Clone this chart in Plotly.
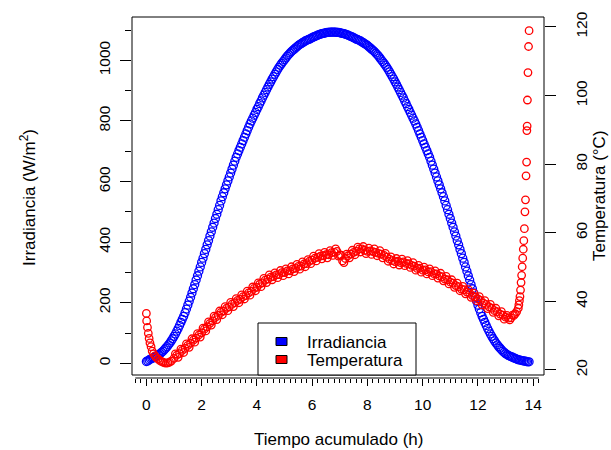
import plotly.graph_objects as go

# ---------------- data ----------------
# Irradiance (W/m2), sampled every 0.05 h from 0 h to 13.85 h
irradiancia = [
    6, 8, 11, 14, 16, 18, 21, 24, 26, 29, 32, 36, 40, 45, 50, 55, 61, 67, 74, 81,
    89, 97, 106, 115, 125, 135, 145, 155, 167, 179, 192, 205, 218, 232, 246, 260,
    275, 289, 304, 318, 333, 347, 362, 376, 391, 405, 420, 434, 449, 463, 478, 492,
    507, 521, 536, 550, 563, 576, 589, 602, 615, 628, 641, 654, 667, 680, 691, 702,
    713, 724, 735, 746, 757, 768, 779, 790, 800, 809, 819, 828, 838, 847, 857, 866,
    876, 885, 894, 903, 912, 921, 929, 938, 946, 954, 962, 970, 977, 984, 990, 996,
    1002, 1008, 1014, 1019, 1024, 1029, 1033, 1037, 1041, 1045, 1049, 1052, 1055,
    1058, 1061, 1064, 1066, 1068, 1070, 1072, 1075, 1077, 1079, 1081, 1083, 1085,
    1086, 1088, 1089, 1090, 1091, 1092, 1092, 1093, 1093, 1093,
    1093, 1093, 1092, 1092, 1091, 1090, 1089, 1088, 1086, 1085,
    1083, 1081, 1079, 1077, 1075, 1072, 1070, 1068, 1066, 1064,
    1061, 1058, 1055, 1052, 1049, 1045, 1041, 1037, 1033, 1029,
    1024, 1019, 1014, 1008, 1002, 996, 990, 984, 977, 970,
    962, 954, 946, 938, 929, 921, 912, 903, 894, 885,
    876, 866, 857, 847, 838, 828, 819, 809, 800, 790,
    779, 768, 757, 746, 735, 724, 713, 702, 691, 680,
    667, 654, 641, 628, 615, 602, 589, 576, 563, 550,
    536, 521, 507, 492, 478, 463, 449, 434, 420, 405,
    391, 376, 362, 347, 333, 318, 304, 289, 275, 260,
    246, 232, 218, 205, 192, 179, 167, 155, 145, 135,
    125, 115, 106, 97, 89, 81, 74, 67, 61, 55,
    50, 45, 40, 36, 32, 29, 26, 24, 22, 20,
    18, 16, 14, 12, 11, 10, 9, 8, 7, 6, 5, 5,
]
tiempo_irr = [round(0.05 * i, 2) for i in range(len(irradiancia))]

# Temperature (deg C) with its own time stamps (h)
tiempo_temp = [
    0.00, 0.01, 0.04, 0.07, 0.10, 0.13, 0.17, 0.21, 0.26, 0.31, 0.36, 0.42, 0.48,
    0.54, 0.60, 0.66, 0.72, 0.78, 0.84, 0.90,
    1.0, 1.1, 1.2, 1.3, 1.4, 1.5, 1.6, 1.7, 1.8, 1.9, 2.0, 2.1, 2.2, 2.3, 2.4, 2.5,
    2.6, 2.7, 2.8, 2.9, 3.0, 3.1, 3.2, 3.3, 3.4, 3.5, 3.6, 3.7, 3.8, 3.9, 4.0, 4.1,
    4.2, 4.3, 4.4, 4.5, 4.6, 4.7, 4.8, 4.9, 5.0, 5.1, 5.2, 5.3, 5.4, 5.5, 5.6, 5.7,
    5.8, 5.9, 6.0, 6.1, 6.2, 6.3, 6.4, 6.5, 6.6, 6.7, 6.8, 6.9, 7.0, 7.1, 7.2, 7.3,
    7.4, 7.5, 7.6, 7.7, 7.8, 7.9, 8.0, 8.1, 8.2, 8.3, 8.4, 8.5, 8.6, 8.7, 8.8, 8.9,
    9.0, 9.1, 9.2, 9.3, 9.4, 9.5, 9.6, 9.7, 9.8, 9.9, 10.0, 10.1, 10.2, 10.3, 10.4,
    10.5, 10.6, 10.7, 10.8, 10.9, 11.0, 11.1, 11.2, 11.3, 11.4, 11.5, 11.6, 11.7,
    11.8, 11.9, 12.0, 12.1, 12.2, 12.3, 12.4, 12.5, 12.6, 12.7, 12.8, 12.9, 13.0,
    13.1, 13.2, 13.3, 13.35, 13.40,
    13.46, 13.48, 13.50, 13.52, 13.54, 13.56, 13.58, 13.60, 13.62, 13.64, 13.66,
    13.68, 13.70, 13.72, 13.74, 13.76, 13.77, 13.78, 13.79, 13.81, 13.83, 13.85,
]
temperatura = [
    36.5, 34.3, 32.4, 30.7, 29.2, 27.9, 26.8, 25.5, 24.7, 24.1, 23.6, 23.2, 22.8,
    22.5, 22.3, 22.1, 22.0, 22.1, 22.3, 22.6,
    23.4, 24.3, 24.8, 25.7, 26.3, 27.2, 27.8, 28.7, 29.3, 30.2, 30.8, 31.9, 32.6,
    33.6, 34.3, 35.3, 35.9, 36.8, 37.2, 38.0, 38.4, 39.2, 39.6, 40.3, 40.6, 41.4,
    41.7, 42.5, 42.9, 43.8, 44.1, 45.0, 45.4, 46.2, 46.5, 47.1, 47.2, 47.7, 47.8,
    48.4, 48.4, 48.9, 48.9, 49.5, 49.6, 50.2, 50.3, 50.9, 51.0, 51.7, 52.0, 52.6,
    52.8, 53.2, 53.3, 53.6, 53.6, 54.2, 54.3, 54.6, 53.5, 51.8, 52.5, 53.3, 53.8,
    54.3, 54.6, 55.3, 55.3, 54.9, 54.6, 54.7, 54.5, 54.3, 54.0, 53.8, 53.4, 52.9,
    52.3, 51.9, 51.6, 51.7, 51.3, 51.5, 51.1, 51.0, 50.5, 50.3, 49.6, 49.7, 49.1,
    49.2, 48.6, 48.7, 48.1, 48.0, 47.4, 47.2, 46.5, 46.3, 45.6, 45.3, 44.6, 44.3,
    43.6, 43.4, 42.7, 42.4, 41.7, 41.4, 40.7, 40.3, 39.5, 39.1, 38.4, 38.0, 37.3,
    37.0, 36.3, 36.0, 35.4, 35.1, 35.2, 35.9, 36.4, 37.0,
    38.0, 39.0, 40.2, 41.4, 43.3, 45.5, 47.6, 50.1, 52.6, 55.2, 57.7, 61.2, 66.1,
    69.6, 76.6, 80.6, 89.8, 91.1, 98.7, 106.7, 114.3, 118.9,
]
# extra (noisy) readings between the ones above, 1.05 h .. 13.25 h every 0.1 h
tiempo_temp_b = [round(1.05 + 0.1 * i, 2) for i in range(123)]
temperatura_b = [
    24.7, 23.7, 26.1, 25.1, 27.6, 26.6, 29.1, 28.1, 30.6, 29.6,
    32.2, 31.4, 34.0, 33.1, 35.7, 34.7, 37.2, 36.1, 38.5, 37.3,
    39.7, 38.5, 40.8, 39.6, 41.9, 40.7, 43.0, 41.8, 44.2, 43.1,
    45.4, 44.3, 46.7, 45.5, 47.7, 46.3, 48.3, 46.9, 49.0, 47.5,
    49.5, 48.0, 50.1, 48.7, 50.8, 49.4, 51.5, 50.1, 52.2, 51.0,
    53.2, 51.8, 53.9, 52.4, 54.3, 52.7, 54.8, 53.4, 55.3, 53.2,
    53.5, 51.3, 53.8, 52.7, 54.9, 53.6, 55.8, 54.4, 56.0, 53.9,
    55.5, 53.7, 55.3, 53.3, 54.8, 52.7, 54.0, 51.7, 53.0, 50.9,
    52.5, 50.6, 52.3, 50.4, 51.9, 49.9, 51.3, 49.1, 50.5, 48.5,
    50.0, 48.0, 49.5, 47.5, 48.9, 46.8, 48.2, 46.0, 47.3, 45.1,
    46.3, 44.1, 45.3, 43.1, 44.4, 42.2, 43.4, 41.2, 42.4, 40.2,
    41.4, 39.0, 40.2, 37.9, 39.1, 36.8, 38.0, 35.8, 37.0, 34.8,
    35.9, 34.6, 36.0,
]

x_ticks = [0, 2, 4, 6, 8, 10, 12, 14]
irr_ticks = [0, 200, 400, 600, 800, 1000]
temp_ticks = [20, 40, 60, 80, 100, 120]
legend_labels = ["Irradiancia", "Temperatura"]

# ---------------- layout helpers (pixel -> paper) ----------------
L, R, T, B = 132, 544, 17, 378
W, H = 611, 450


def px(x):
    return (x - L) / (R - L)


def py(y):
    return (B - y) / (B - T)


FONT = "Liberation Sans, Arial, sans-serif"
BLUE = "#0000FF"
RED = "#FF0000"

fig = go.Figure()
fig.add_trace(go.Scatter(
    x=tiempo_irr, y=irradiancia, mode="markers", yaxis="y",
    marker=dict(symbol="circle-open", size=8, color=BLUE, line=dict(width=1.3, color=BLUE)),
    showlegend=False, name=legend_labels[0]))
fig.add_trace(go.Scatter(
    x=tiempo_temp + tiempo_temp_b, y=temperatura + temperatura_b, mode="markers", yaxis="y2",
    marker=dict(symbol="circle-open", size=7.5, color=RED, line=dict(width=1.3, color=RED)),
    showlegend=False, name=legend_labels[1]))

box_bottom = py(375)

fig.update_layout(
    width=W, height=H,
    margin=dict(l=L, r=W - R, t=T, b=H - B, pad=0),
    paper_bgcolor="white", plot_bgcolor="white",
    font=dict(family=FONT, color="black"),
    xaxis=dict(
        range=[-0.52, 14.39], anchor="free", position=0,
        showline=False, showgrid=False, zeroline=False,
        tickmode="array", tickvals=x_ticks,
        ticks="outside", ticklen=7, tickwidth=1, tickcolor="black",
        minor=dict(dtick=0.2, tick0=0, ticks="outside", ticklen=4, tickwidth=1,
                   tickcolor="black", showgrid=False),
        tickfont=dict(size=15.5, family=FONT), ticklabelstandoff=5,
    ),
    yaxis=dict(
        domain=[box_bottom, 1], range=[-38.6, 1143],
        showline=False, showgrid=False, zeroline=False,
        tickmode="array", tickvals=irr_ticks,
        ticks="outside", ticklen=11, tickwidth=1, tickcolor="black",
        minor=dict(tickmode="array", tickvals=[100, 300, 500, 700, 900, 1100],
                   ticks="outside", ticklen=6, tickwidth=1, tickcolor="black",
                   showgrid=False),
        tickangle=-90, tickfont=dict(size=15.5, family=FONT), ticklabelstandoff=4,
    ),
    yaxis2=dict(
        domain=[box_bottom, 1], range=[18.54, 122.9],
        overlaying="y", side="right", anchor="x",
        showline=False, showgrid=False, zeroline=False,
        tickmode="array", tickvals=temp_ticks,
        ticks="outside", ticklen=11, tickwidth=1, tickcolor="black",
        tickangle=-90, tickfont=dict(size=15.5, family=FONT), ticklabelstandoff=12,
    ),
)

shapes = [
    # plot box
    dict(type="rect", xref="paper", yref="paper", x0=0, x1=1, y0=box_bottom, y1=1,
         line=dict(color="black", width=1), layer="above"),
    # bottom axis line
    dict(type="line", xref="x", yref="paper", x0=-0.4, x1=14.2, y0=0, y1=0,
         line=dict(color="black", width=1)),
    # legend box
    dict(type="rect", xref="paper", yref="paper", x0=px(258), x1=px(416),
         y0=box_bottom, y1=py(323), line=dict(color="black", width=1),
         fillcolor="white", layer="above"),
    dict(type="rect", xref="paper", yref="paper", x0=px(276), x1=px(287),
         y0=py(345.5), y1=py(337.5), line=dict(color="black", width=1),
         fillcolor=BLUE, layer="above"),
    dict(type="rect", xref="paper", yref="paper", x0=px(276), x1=px(287),
         y0=py(363.5), y1=py(355.5), line=dict(color="black", width=1),
         fillcolor=RED, layer="above"),
]
fig.update_layout(shapes=shapes)

ann = [
    dict(text=legend_labels[0], x=px(305), y=py(342), xanchor="left", yanchor="middle"),
    dict(text=legend_labels[1], x=px(305), y=py(360), xanchor="left", yanchor="middle"),
    dict(text="Tiempo acumulado (h)", x=px(338), y=py(439), xanchor="center", yanchor="middle"),
    dict(text="Irradiancia (W/m<sup>2</sup>)", x=px(28), y=py(198), textangle=-90,
         xanchor="center", yanchor="middle"),
    dict(text="Temperatura (°C)", x=px(599), y=py(196), textangle=-90,
         xanchor="center", yanchor="middle"),
]
for a in ann:
    a.update(xref="paper", yref="paper", showarrow=False,
             font=dict(size=17, family=FONT, color="black"))
fig.update_layout(annotations=ann)

fig.write_html("out.html")
